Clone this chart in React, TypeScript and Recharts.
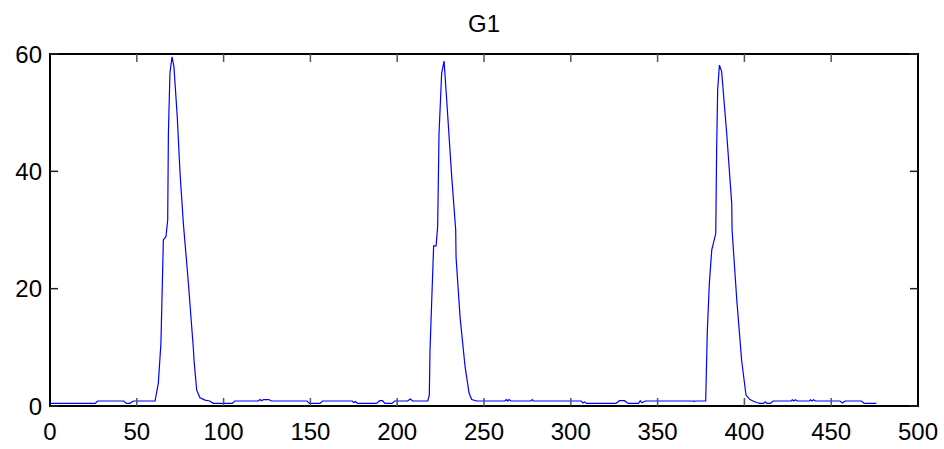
import React from 'react';
import { LineChart, Line, XAxis, YAxis, ReferenceArea } from 'recharts';

// G1 signal (x position, value)
const g1X = [
  0, 26, 27.5, 42.5, 44, 46, 48, 60.5, 62.4, 63.9, 65.3, 66.8, 67.8, 68.2, 69.1, 70.3, 71.4, 73.3,
  74.9, 76.8, 79.7, 82.5, 83.1, 84.5, 86.4, 89.3, 92, 94, 105, 106.5, 120, 121, 122, 123, 126, 127.5,
  148, 149.5, 155.5, 157, 174, 175, 176, 177, 188, 190, 191.5, 193, 197, 198.5, 206, 207.5, 209,
  217.6, 218.5, 218.9, 219.9, 221, 222.4, 223.3, 224.1, 225.6, 227, 228.5, 231.4, 233.7, 233.9,
  236.2, 239.1, 241.4, 242.9, 245.8, 262, 262.8, 263.6, 264.4, 265.5, 277, 277.7, 278.5, 306, 307,
  308, 309, 326, 328, 331, 333, 339, 340, 341, 343, 370.5, 371, 371.5, 377.7, 378.6, 379.8, 381.2,
  383.5, 384, 384.6, 385.6, 386.9, 389.8, 392.7, 392.9, 395.6, 398.4, 400.9, 401.7, 403.2, 405, 407,
  409, 411, 412, 413, 415, 416.5, 427, 427.6, 428.5, 429.4, 430.5, 437.5, 438, 439, 439.8, 441, 455,
  456.5, 458, 467.5, 469, 476,
];
const g1Y = [
  0.45, 0.45, 0.85, 0.85, 0.45, 0.45, 0.85, 0.85, 3.9, 10.7, 28.3, 28.9, 31.7, 46.5, 56.8, 59.5, 57.8, 49.3,
  39.7, 31.2, 21.0, 10.1, 7.3, 2.7, 1.4, 1.0, 0.85, 0.45, 0.45, 0.85, 0.85, 1.1, 0.9, 1.1, 1.1, 0.85,
  0.85, 0.45, 0.45, 0.85, 0.85, 0.6, 0.75, 0.45, 0.45, 0.9, 0.9, 0.45, 0.45, 0.85, 0.85, 1.2, 0.85,
  0.85, 1.9, 9.5, 18.1, 27.3, 27.3, 30.6, 46.5, 56.7, 58.8, 52.2, 39.1, 30, 25.4,
  15.2, 6.7, 2.2, 1.1, 0.85, 0.85, 1.1, 0.85, 1.1, 0.85, 0.85, 1.1, 0.85, 0.85, 0.5,
  0.7, 0.45, 0.45, 0.9, 0.9, 0.45, 0.45, 0.9, 0.55, 0.85, 0.85, 0.75, 0.85, 0.85, 12.4, 20.9, 26.6,
  29.4, 43.6, 53.9, 58.1, 57.0, 46.5, 34.5, 30, 18.1, 7.8, 1.9, 1.6, 1.1, 0.85, 0.6,
  0.45, 0.45, 0.7, 0.45, 0.45, 0.85, 0.85, 1.05, 0.85, 1.05, 0.85, 0.85, 1.05, 0.85, 1.05, 0.85, 0.85,
  0.5, 0.85, 0.85, 0.45, 0.45,
];

const xTicks = [0, 50, 100, 150, 200, 250, 300, 350, 400, 450, 500];
const yTicks = [0, 20, 40, 60];

const data = g1X.map((x, i) => ({ x, g1: g1Y[i] }));

// plot box in pixels
const LEFT = 50;
const RIGHT = 918;
const TOP = 54;
const BOTTOM = 406;
const FONT = 'Liberation Sans, Arial, sans-serif';

const XTick = (props: any) => {
  const { x, payload } = props;
  const inner = payload.value !== 0 && payload.value !== 500;
  return (
    <g>
      {inner && <line x1={x} y1={BOTTOM} x2={x} y2={BOTTOM - 8} stroke="#555" strokeWidth={1.5} />}
      {inner && <line x1={x} y1={TOP} x2={x} y2={TOP + 8} stroke="#555" strokeWidth={1.5} />}
      <text x={x} y={440} textAnchor="middle" fontSize={24} fontFamily={FONT} fill="#000">
        {payload.value}
      </text>
    </g>
  );
};

const YTick = (props: any) => {
  const { y, payload } = props;
  return (
    <g>
      <line x1={LEFT} y1={y} x2={LEFT + 8} y2={y} stroke="#222" strokeWidth={1.5} />
      <line x1={RIGHT} y1={y} x2={RIGHT - 8} y2={y} stroke="#222" strokeWidth={1.5} />
      <text x={42} y={y + 8.5} textAnchor="end" fontSize={24} fontFamily={FONT} fill="#000">
        {payload.value}
      </text>
    </g>
  );
};

const App: React.FC = () => {
  return (
    <div style={{ position: 'relative', width: 944, height: 449, background: '#fff' }}>
      <style>{`body { margin: 0; }`}</style>
      <div
        style={{
          position: 'absolute',
          left: 0,
          width: (LEFT + RIGHT),
          top: 10,
          textAlign: 'center',
          fontFamily: FONT,
          fontSize: 24,
          lineHeight: '28px',
          color: '#000',
        }}
      >
        G1
      </div>
      <LineChart width={944} height={449} data={data} margin={{ top: TOP, right: 944 - RIGHT, left: 0, bottom: 0 }}>
        <XAxis
          dataKey="x"
          type="number"
          domain={[0, 500]}
          ticks={xTicks}
          height={449 - BOTTOM}
          tickLine={false}
          tickSize={0}
          tickMargin={0}
          axisLine={false}
          tick={<XTick />}
          interval={0}
        />
        <YAxis
          type="number"
          domain={[0, 60]}
          ticks={yTicks}
          width={LEFT}
          tickLine={false}
          tickSize={0}
          tickMargin={0}
          axisLine={false}
          tick={<YTick />}
          interval={0}
        />
        <ReferenceArea x1={0} x2={500} y1={0} y2={60} fill="none" stroke="#000" strokeWidth={2} />
        <Line
          type="linear"
          dataKey="g1"
          stroke="#0000ff"
          strokeWidth={1.2}
          dot={false}
          isAnimationActive={false}
        />
      </LineChart>
    </div>
  );
};

export default App;
